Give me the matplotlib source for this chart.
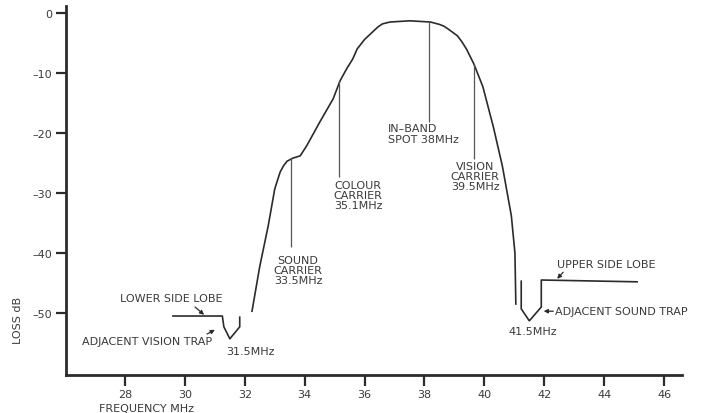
import matplotlib
matplotlib.use('Agg')
import matplotlib.pyplot as plt

# IF response curve
freq_main = [32.24, 32.5, 32.78, 33.0, 33.18, 33.3, 33.41, 33.6, 33.85, 34.07, 34.5, 34.95, 35.18,
             35.4, 35.6, 35.75, 36.0, 36.3, 36.45, 36.6, 36.85, 37.5, 38.2, 38.5, 38.65, 38.8,
             39.1, 39.25, 39.4, 39.65, 39.95, 40.3, 40.6, 40.9, 41.02, 41.05]
loss_main = [-49.7, -42.2, -35.5, -29.3, -26.5, -25.4, -24.7, -24.2, -23.8, -22.1, -18.2, -14.3, -11.3,
             -9.3, -7.7, -6.0, -4.4, -3.0, -2.3, -1.8, -1.5, -1.3, -1.5, -1.9, -2.2, -2.7,
             -3.8, -4.8, -6.0, -8.5, -12.3, -19.0, -25.5, -33.8, -40.0, -48.5]

# lower side lobe + adjacent vision trap
freq_low = [29.6, 31.25, 31.3, 31.5, 31.83, 31.83]
loss_low = [-50.5, -50.5, -52.3, -54.3, -52.3, -50.7]

# adjacent sound trap + upper side lobe
freq_up = [41.23, 41.23, 41.5, 41.9, 41.9, 45.1]
loss_up = [-44.7, -49.3, -51.3, -49.0, -44.5, -44.8]

# marker lines (freq, top, bottom)
mark_freq = [33.55, 35.15, 38.15, 39.65]
mark_top = [-24.2, -11.3, -1.5, -8.5]
mark_bot = [-39.0, -27.3, -18.2, -24.3]

xticks = [28, 30, 32, 34, 36, 38, 40, 42, 44, 46]
yticks = [0, -10, -20, -30, -40, -50]

ink = '#2b2b2b'
txt = '#3a3a3a'
fs = 8

fig = plt.figure(figsize=(7.07, 4.14), dpi=100)
ax = fig.add_axes([0.0934, 0.0918, 0.8713, 0.8913])

ax.plot(freq_main, loss_main, color=ink, lw=1.2)
ax.plot(freq_low, loss_low, color=ink, lw=1.2)
ax.plot(freq_up, loss_up, color=ink, lw=1.2)
ax.vlines(mark_freq, mark_bot, mark_top, color='#555555', lw=0.9)

ax.set_xlim(26.03, 46.6)
ax.set_ylim(-60.33, 1.17)
ax.set_xticks(xticks)
ax.set_yticks(yticks)
ax.set_xticklabels([str(t) for t in xticks])
ax.set_yticklabels([str(t).replace('-', '\u2013') for t in yticks])
ax.tick_params(axis='both', colors=ink, labelcolor=txt, labelsize=fs, width=1.6)
ax.tick_params(axis='x', length=8, pad=2)
ax.tick_params(axis='y', length=7, pad=3)
for s in ['top', 'right']:
    ax.spines[s].set_visible(False)
for s in ['left', 'bottom']:
    ax.spines[s].set_linewidth(2.0)
    ax.spines[s].set_color(ink)

ax.set_xlabel('FREQUENCY MHz', fontsize=fs, color=txt)
ax.xaxis.set_label_coords(0.13, -0.075)
ax.set_ylabel('LOSS dB', fontsize=fs, color=txt)
ax.yaxis.set_label_coords(-0.07, 0.15)

# labels
ax.text(27.83, -47.5, 'LOWER SIDE LOBE', fontsize=fs, color=txt, ha='left', va='center')
ax.text(26.56, -54.7, 'ADJACENT VISION TRAP', fontsize=fs, color=txt, ha='left', va='center')
ax.text(31.37, -56.3, '31.5MHz', fontsize=fs, color=txt, ha='left', va='center')
ax.text(33.78, -40.3, 'SOUND\nCARRIER\n33.5MHz', fontsize=fs, color=txt, ha='center', va='top',
        linespacing=1.0)
ax.text(35.78, -27.9, 'COLOUR\nCARRIER\n35.1MHz', fontsize=fs, color=txt, ha='center', va='top',
        linespacing=1.0)
ax.text(36.78, -18.4, 'IN\u2013BAND\nSPOT 38MHz', fontsize=fs, color=txt, ha='left', va='top',
        linespacing=1.05)
ax.text(39.69, -24.6, 'VISION\nCARRIER\n39.5MHz', fontsize=fs, color=txt, ha='center', va='top',
        linespacing=1.0)
ax.text(42.43, -41.8, 'UPPER SIDE LOBE', fontsize=fs, color=txt, ha='left', va='center')
ax.text(42.36, -49.7, 'ADJACENT SOUND TRAP', fontsize=fs, color=txt, ha='left', va='center')
ax.text(41.63, -53.0, '41.5MHz', fontsize=fs, color=txt, ha='center', va='center')

arrow = dict(arrowstyle='-|>', color=ink, lw=0.9, mutation_scale=6, shrinkA=0, shrinkB=0)
ax.annotate('', xy=(30.64, -50.3), xytext=(30.34, -49.0), arrowprops=arrow)
ax.annotate('', xy=(31.0, -52.8), xytext=(30.74, -53.5), arrowprops=arrow)
ax.annotate('', xy=(42.43, -44.3), xytext=(42.63, -43.2), arrowprops=arrow)
ax.annotate('', xy=(41.98, -49.7), xytext=(42.3, -49.7), arrowprops=arrow)

plt.savefig('out.png', dpi=100)
